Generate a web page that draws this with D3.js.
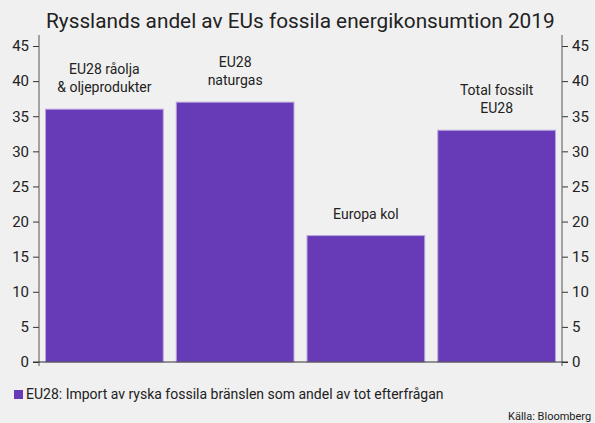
<!DOCTYPE html>
<html>
<head>
<meta charset="utf-8">
<script src="https://cdn.jsdelivr.net/npm/d3@7"></script>
<style>
  body { margin: 0; background: #f0f0f0; }
  svg text { font-family: Roboto, "Noto Sans", sans-serif; fill: #222; }
</style>
</head>
<body>
<div id="chart"></div>
<script>
// Data
var categories = ["olja", "gas", "kol", "total"];
var barLabels = [
    ["EU28 råolja", "& oljeprodukter"],
    ["EU28", "naturgas"],
    ["Europa kol"],
    ["Total fossilt", "EU28"]
];
var values = [36, 37, 18, 33];
var yTicks = [0, 5, 10, 15, 20, 25, 30, 35, 40, 45];
var titleText = "Rysslands andel av EUs fossila energikonsumtion 2019";
var legendText = "EU28: Import av ryska fossila bränslen som andel av tot efterfrågan";
var sourceText = "Källa: Bloomberg";

var svgWidth = 595;
var svgHeight = 423;

var margin = { top: 35, right: 33, bottom: 61, left: 39 };
var width = svgWidth - margin.left - margin.right;
var height = svgHeight - margin.top - margin.bottom;

var svg = d3.select("#chart")
    .append("svg")
    .attr("width", svgWidth)
    .attr("height", svgHeight);

svg.append("rect")
    .attr("width", svgWidth)
    .attr("height", svgHeight)
    .attr("fill", "#f0f0f0");

// Title
svg.append("text")
    .attr("x", 46)
    .attr("y", 28)
    .style("font-size", "20.8px")
    .text(titleText);

var chartGroup = svg.append("g")
    .attr("transform", `translate(${margin.left}, ${margin.top})`);

var xScale = d3.scaleBand()
    .domain(categories)
    .range([0, width])
    .paddingInner(0.1)
    .paddingOuter(0.05);

// 0 at baseline, 45 at first tick
var yScale = d3.scaleLinear()
    .domain([0, 45])
    .range([height, 11]);

// Bars
chartGroup.selectAll(".bar")
    .data(values)
    .enter()
    .append("rect")
    .attr("class", "bar")
    .attr("x", (d, i) => xScale(categories[i]))
    .attr("y", d => yScale(d))
    .attr("width", xScale.bandwidth())
    .attr("height", d => height - yScale(d))
    .attr("fill", "#673ab7")
    .attr("stroke", "#b7a3dc")
    .attr("stroke-width", 1);

// Bar labels
barLabels.forEach((lines, i) => {
    var cx = xScale(categories[i]) + xScale.bandwidth() / 2;
    var lastY = yScale(values[i]) - 17;
    lines.forEach((line, j) => {
        chartGroup.append("text")
            .attr("x", cx)
            .attr("y", lastY - (lines.length - 1 - j) * 18)
            .attr("text-anchor", "middle")
            .style("font-size", "14px")
            .text(line);
    });
});

// Axes
var leftAxis = d3.axisLeft(yScale).tickValues(yTicks).tickSize(6).tickPadding(4);
var rightAxis = d3.axisRight(yScale).tickValues(yTicks).tickSize(6).tickPadding(4);

var leftG = chartGroup.append("g").call(leftAxis);
var rightG = chartGroup.append("g")
    .attr("transform", `translate(${width}, 0)`)
    .call(rightAxis);

[leftG, rightG].forEach(g => {
    g.select(".domain").remove();
    g.selectAll(".tick line").attr("stroke", "#333");
    g.selectAll(".tick text")
        .style("font-size", "15px")
        .attr("fill", "#222");
});

// Vertical axis lines
[0, width].forEach(x => {
    chartGroup.append("line")
        .attr("x1", x).attr("x2", x)
        .attr("y1", 0).attr("y2", height + 4)
        .attr("stroke", "#555")
        .attr("stroke-width", 1);
});

// Baseline
chartGroup.append("line")
    .attr("x1", -6).attr("x2", width + 6)
    .attr("y1", height).attr("y2", height)
    .attr("stroke", "#333")
    .attr("stroke-width", 1.2);

// Legend
svg.append("rect")
    .attr("x", 14)
    .attr("y", 390)
    .attr("width", 9)
    .attr("height", 9)
    .attr("fill", "#673ab7");

svg.append("text")
    .attr("x", 26)
    .attr("y", 399)
    .style("font-size", "14px")
    .text(legendText);

// Source
svg.append("text")
    .attr("x", 508)
    .attr("y", 420)
    .style("font-size", "11px")
    .text(sourceText);
</script>
</body>
</html>
